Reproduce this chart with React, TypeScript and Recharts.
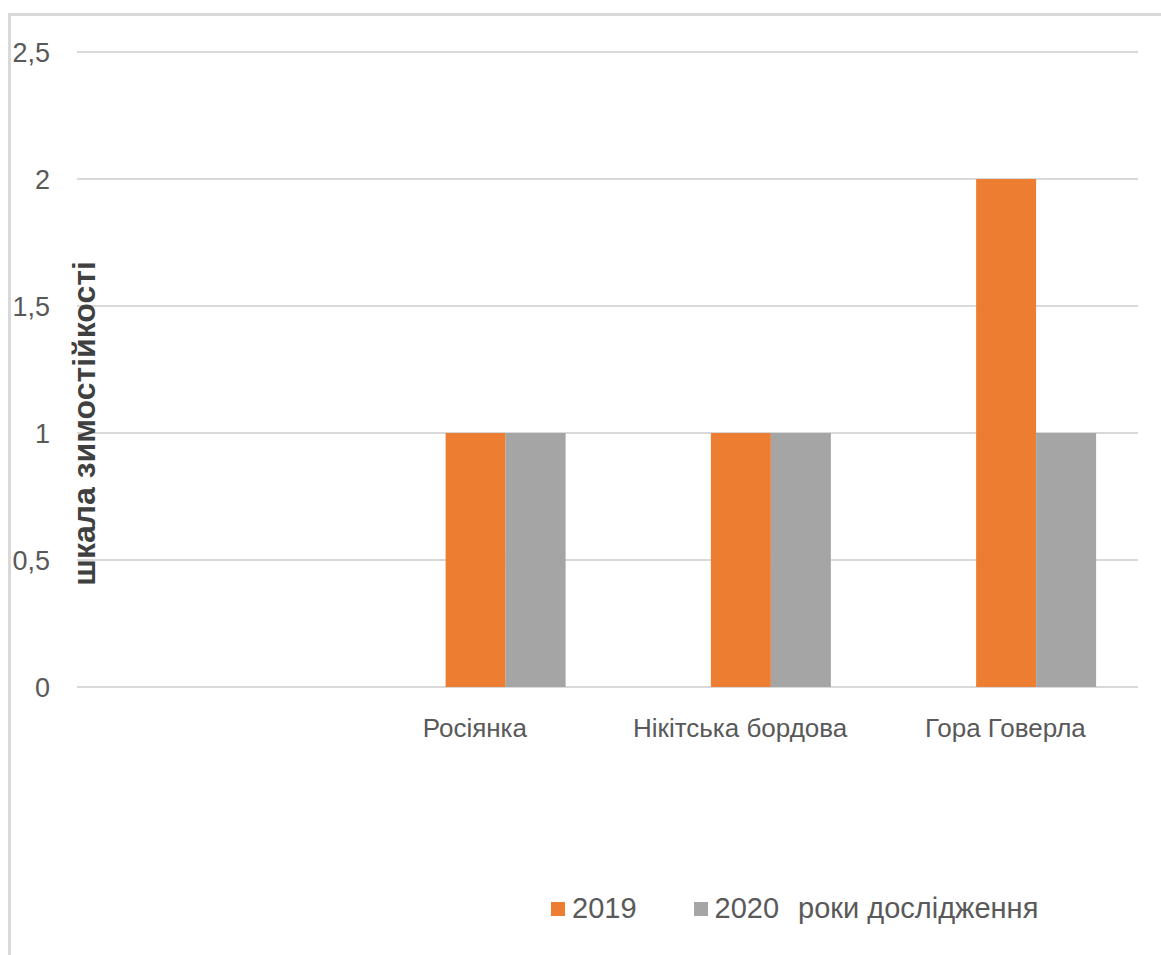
import { BarChart, Bar, CartesianGrid, XAxis, YAxis, Legend } from 'recharts';

const categories = ['', 'Росіянка', 'Нікітська бордова', 'Гора Говерла'];
const values2019 = [null, 1, 1, 2];
const values2020 = [null, 1, 1, 1];
// the third series has no data, it only holds a slot in each group
const valuesYears = [null, null, null, null];
const yTicks = [0, 0.5, 1, 1.5, 2, 2.5];

const ORANGE = '#ED7D31';
const GREY = '#A5A5A5';
const TEXT = '#595959';
const FONT = "'Liberation Sans', Arial, sans-serif";

const data = categories.map((name, i) => ({
  name,
  years: valuesYears[i],
  y2019: values2019[i],
  y2020: values2020[i],
}));

function LegendRow() {
  const item = (colour: string | null, label: string, gap: number) => (
    <div style={{ display: 'flex', alignItems: 'center', marginRight: gap }}>
      {colour && <span style={{ width: 14, height: 14, background: colour, marginRight: 7, display: 'inline-block' }} />}
      <span>{label}</span>
    </div>
  );
  return (
    <div style={{ display: 'flex', alignItems: 'center', fontFamily: FONT, fontSize: 29, color: TEXT }}>
      {item(ORANGE, '2019', 57)}
      {item(GREY, '2020', 19)}
      {item(null, 'роки дослідження', 0)}
    </div>
  );
}

export default function App() {
  return (
    <div
      style={{
        position: 'absolute',
        left: 8,
        top: 13,
        width: 1153,
        height: 942,
        boxSizing: 'border-box',
        borderLeft: '3px solid #d9d9d9',
        borderTop: '3px solid #d9d9d9',
        background: '#fff',
        overflow: 'hidden',
      }}
    >
      <BarChart
        width={1150}
        height={939}
        data={data}
        margin={{ top: 36, right: 23, left: 0, bottom: 23 }}
        barCategoryGap='16.35%'
        barGap={0}
      >
        <CartesianGrid stroke='#d9d9d9' strokeWidth={2} vertical={false} />
        <XAxis
          dataKey='name'
          axisLine={false}
          tickLine={false}
          tickSize={0}
          tickMargin={32}
          height={205}
          interval={0}
          tick={{ fill: TEXT, fontSize: 26, fontFamily: FONT }}
        />
        <YAxis
          width={66}
          domain={[0, 2.5]}
          ticks={yTicks}
          axisLine={false}
          tickLine={false}
          tickSize={0}
          tickMargin={27}
          tickFormatter={(v) => String(v).replace('.', ',')}
          tick={{ fill: TEXT, fontSize: 27, fontFamily: FONT }}
          label={{
            value: 'шкала зимостійкості',
            angle: -90,
            position: 'center',
            dx: 40,
            dy: 54,
            style: { fill: '#404040', fontSize: 32, fontWeight: 700, fontFamily: FONT, textAnchor: 'middle' },
          }}
        />
        <Legend
          verticalAlign='bottom'
          align='left'
          wrapperStyle={{ left: 540, width: 580, height: 40 }}
          content={() => <LegendRow />}
        />
        <Bar dataKey='years' name='роки дослідження' fill='transparent' isAnimationActive={false} />
        <Bar dataKey='y2019' name='2019' fill={ORANGE} isAnimationActive={false} />
        <Bar dataKey='y2020' name='2020' fill={GREY} isAnimationActive={false} />
      </BarChart>
    </div>
  );
}
